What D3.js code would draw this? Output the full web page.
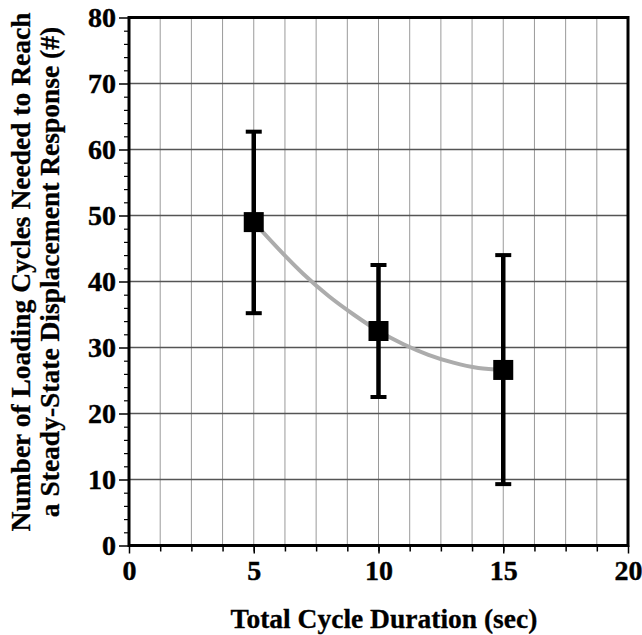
<!DOCTYPE html>
<html><head><meta charset="utf-8">
<script src="https://cdn.jsdelivr.net/npm/d3@7"></script>
<style>body{margin:0;background:#fff}svg{display:block}</style>
</head><body>
<script>
const durations = [5, 10, 15];
const meanCycles = [49, 32.5, 26.6];
const upperCycles = [62.7, 42.5, 44];
const lowerCycles = [35.2, 22.5, 9.3];
const trendX = [5, 6, 7, 8, 9, 10, 11, 12, 13, 14, 15];
const trendY = [49, 44.9, 41.1, 37.8, 35.0, 32.5, 30.5, 28.9, 27.7, 26.9, 26.6];
const xTicks = [0, 5, 10, 15, 20];
const yTicks = [0, 10, 20, 30, 40, 50, 60, 70, 80];
const xTitle = "Total Cycle Duration (sec)";
const yTitle1 = "Number of Loading Cycles Needed to Reach";
const yTitle2 = "a Steady-State Displacement Response (#)";

const W = 642, H = 635;
const m = {l: 129, r: 14, t: 17.5, b: 89.5};
const svg = d3.select("body").append("svg").attr("width", W).attr("height", H);
const x = d3.scaleLinear().domain([0, 20]).range([m.l, W - m.r]);
const y = d3.scaleLinear().domain([0, 80]).range([H - m.b, m.t]);
const font = "'Liberation Serif','Times New Roman',serif";

// vertical minor grid
const vGrid = d3.range(1.25, 20, 1.25);
svg.append("g").selectAll("line").data(vGrid).join("line")
  .attr("x1", d => x(d)).attr("x2", d => x(d)).attr("y1", y(0)).attr("y2", y(80))
  .attr("stroke", "#9a9a9a").attr("stroke-width", 1);
// horizontal major grid
svg.append("g").selectAll("line").data(yTicks.slice(1, -1)).join("line")
  .attr("x1", x(0)).attr("x2", x(20)).attr("y1", d => y(d)).attr("y2", d => y(d))
  .attr("stroke", "#555").attr("stroke-width", 1.3);

// minor ticks
svg.append("g").attr("transform", `translate(0,${y(0)})`)
  .call(d3.axisBottom(x).tickValues(vGrid).tickSize(6).tickFormat(""))
  .call(g => g.select(".domain").remove())
  .selectAll("line").attr("stroke", "#000").attr("stroke-width", 1.5);
svg.append("g").attr("transform", `translate(${x(0)},0)`)
  .call(d3.axisLeft(y).tickValues(d3.range(0, 81, 2).filter(v => v % 10 !== 0)).tickSize(5).tickFormat(""))
  .call(g => g.select(".domain").remove())
  .selectAll("line").attr("stroke", "#000").attr("stroke-width", 1.2);

// major axes
const xAxis = svg.append("g").attr("transform", `translate(0,${y(0)})`)
  .call(d3.axisBottom(x).tickValues(xTicks).tickSize(8).tickPadding(7).tickFormat(d3.format("d")));
xAxis.attr("font-family", font).attr("font-size", 28).attr("font-weight", "bold");
xAxis.select(".domain").remove();
xAxis.selectAll("line").attr("stroke", "#000").attr("stroke-width", 1.5);
xAxis.selectAll("text").attr("fill", "#000").attr("stroke", "#000").attr("stroke-width", 0.4);

const yAxis = svg.append("g").attr("transform", `translate(${x(0)},0)`)
  .call(d3.axisLeft(y).tickValues(yTicks).tickSize(10).tickPadding(3).tickFormat(d3.format("d")));
yAxis.attr("font-family", font).attr("font-size", 28).attr("font-weight", "bold");
yAxis.select(".domain").remove();
yAxis.selectAll("line").attr("stroke", "#000").attr("stroke-width", 1.5);
yAxis.selectAll("text").attr("fill", "#000").attr("stroke", "#000").attr("stroke-width", 0.4);

// frame
svg.append("rect").attr("x", x(0)).attr("y", y(80)).attr("width", x(20) - x(0)).attr("height", y(0) - y(80))
  .attr("fill", "none").attr("stroke", "#000").attr("stroke-width", 3);

// trend curve
const trend = trendX.map((d, i) => [d, trendY[i]]);
svg.append("path").datum(trend)
  .attr("d", d3.line().x(d => x(d[0])).y(d => y(d[1])).curve(d3.curveMonotoneX))
  .attr("fill", "none").attr("stroke", "#acacac").attr("stroke-width", 4);

// error bars
const pts = durations.map((d, i) => ({x: d, m: meanCycles[i], hi: upperCycles[i], lo: lowerCycles[i]}));
const eb = svg.append("g").attr("stroke", "#000");
eb.selectAll(".v").data(pts).join("line")
  .attr("x1", d => x(d.x)).attr("x2", d => x(d.x)).attr("y1", d => y(d.lo)).attr("y2", d => y(d.hi))
  .attr("stroke-width", 4.5);
eb.selectAll(".ct").data(pts).join("line")
  .attr("x1", d => x(d.x) - 8).attr("x2", d => x(d.x) + 8).attr("y1", d => y(d.hi)).attr("y2", d => y(d.hi))
  .attr("stroke-width", 4);
eb.selectAll(".cb").data(pts).join("line")
  .attr("x1", d => x(d.x) - 8).attr("x2", d => x(d.x) + 8).attr("y1", d => y(d.lo)).attr("y2", d => y(d.lo))
  .attr("stroke-width", 4);
// markers
svg.append("g").selectAll("rect").data(pts).join("rect")
  .attr("x", d => x(d.x) - 10).attr("y", d => y(d.m) - 10).attr("width", 20).attr("height", 20)
  .attr("fill", "#000");

// titles
const titleStyle = s => s.attr("font-family", font).attr("font-weight", "bold").attr("font-size", 27.5)
  .attr("fill", "#000").attr("stroke", "#000").attr("stroke-width", 0.3);
svg.append("text").attr("x", 384).attr("y", 628).attr("text-anchor", "middle").call(titleStyle).text(xTitle);
const yc = 272;
svg.append("text").attr("transform", `translate(30,${yc}) rotate(-90)`).attr("text-anchor", "middle")
  .call(titleStyle).text(yTitle1);
svg.append("text").attr("transform", `translate(59,${yc}) rotate(-90)`).attr("text-anchor", "middle")
  .call(titleStyle).text(yTitle2);
</script>
</body></html>
